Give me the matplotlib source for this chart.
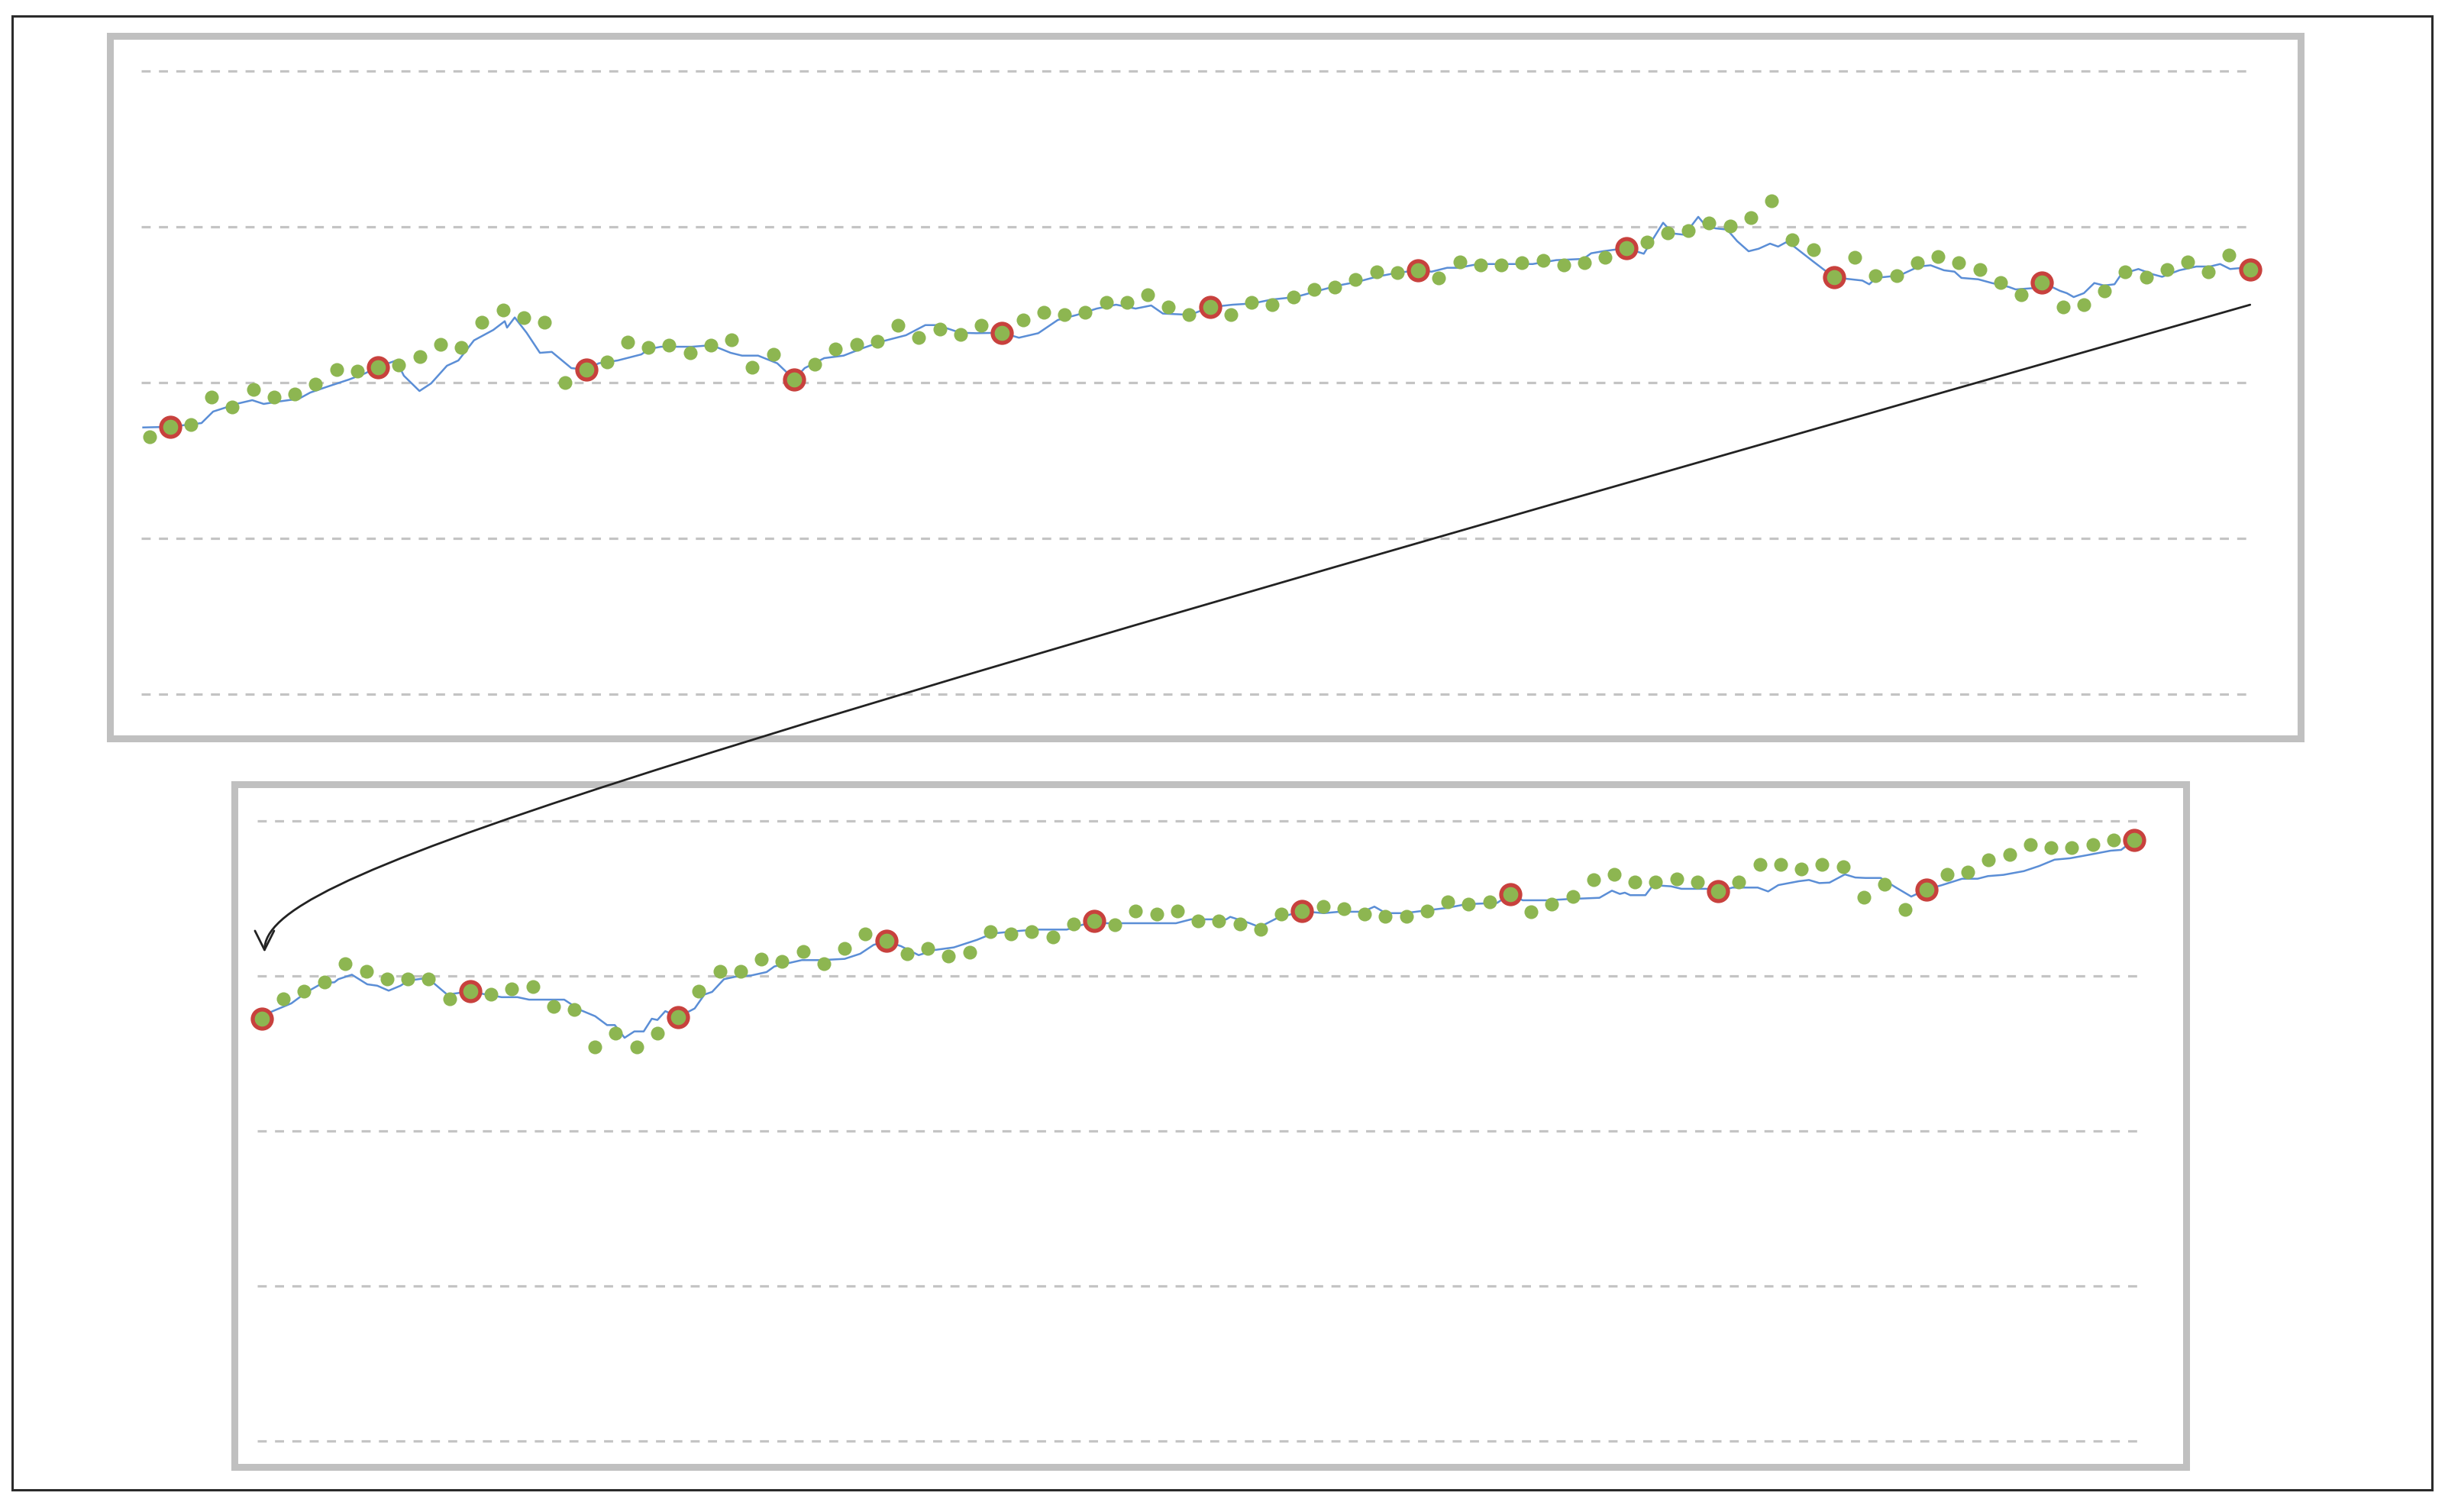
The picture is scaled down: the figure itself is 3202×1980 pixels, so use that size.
import matplotlib
matplotlib.use('Agg')
import matplotlib.pyplot as plt
from matplotlib.patches import Rectangle, FancyArrowPatch
from matplotlib.path import Path

W, H = 3202, 1981

# weekly closes (green dots); every 10th week is ringed in red
top_week = [165.0, 171.6, 173.2, 190.8, 184.2, 195.6, 190.8, 192.5, 198.9, 208.3,
            207.2, 210.0, 211.1, 216.5, 224.4, 222.5, 238.6, 246.7, 241.8, 238.6,
            200.1, 208.3, 213.2, 225.8, 222.5, 224.2, 219.0, 224.2, 227.5, 210.0,
            218.1, 202.1, 211.6, 221.4, 224.7, 226.3, 236.9, 228.8, 234.2, 230.7,
            236.9, 232.0, 240.2, 245.1, 243.5, 245.1, 251.6, 251.6, 256.5, 248.4,
            243.5, 248.4, 243.5, 251.6, 250.0, 254.9, 259.8, 261.4, 266.3, 271.2,
            270.4, 272.1, 267.2, 277.5, 275.3, 275.3, 277.0, 278.6, 275.3, 277.0,
            280.2, 286.3, 290.0, 296.1, 297.4, 302.3, 300.6, 305.9, 316.7, 291.7,
            285.1, 267.5, 280.2, 268.8, 268.8, 277.0, 280.7, 277.0, 272.5, 264.4,
            256.2, 264.4, 248.4, 250.0, 259.0, 271.2, 267.6, 272.5, 277.5, 270.9,
            281.9, 272.5]
top_ring_start = 1

# daily line (blue), x in weeks
top_line_x = [-0.29, 1, 2.51, 3.07, 3.63, 4.18, 4.95, 5.50, 6.25, 7.19, 7.74, 8.50, 9.61,
              10.37, 11, 11.87, 12.24, 12.99, 13.55, 14.31, 14.86, 15.61, 16.54, 17.09,
              17.20, 17.57, 18.14, 18.78, 19.35, 20.29, 21, 21.61, 22.52, 23.66, 24.03,
              24.60, 26.08, 27.04, 27.95, 28.50, 29.27, 30.19, 31, 31.51, 32.45, 33.38,
              34.32, 35.25, 36.38, 37.31, 37.88, 38.99, 39.75, 41, 41.81, 42.74, 43.68,
              44.61, 45.55, 46.48, 47.42, 48.17, 48.73, 50.04, 51, 52.09, 53.05, 53.96,
              55.10, 56.22, 57.15, 58.09, 59.02, 59.96, 61, 61.65, 62.40, 62.95, 63.89,
              65.00, 66.51, 67.64, 68.95, 69.32, 69.88, 71, 71.85, 72.78, 73.25, 73.81,
              74.47, 74.83, 75.31, 75.86, 76.34, 76.89, 77.37, 77.92, 78.31, 78.68,
              79.05, 79.99, 81, 82.36, 82.69, 83.02, 84.15, 85.07, 85.64, 86.28, 86.79,
              87.12, 87.93, 88.59, 89.40, 89.73, 90.55, 91, 91.86, 92.19, 92.52, 93.01,
              93.51, 93.98, 94.48, 94.81, 95.63, 96.30, 96.77, 97.60, 98.42, 99.07,
              99.56, 100.04, 100.70, 101]
top_line_y = [171.2, 171.6, 174.0, 181.4, 183.8, 186.3, 188.7, 186.3, 187.9, 189.6, 193.6,
              197.1, 202.0, 205.9, 210.0, 214.2, 204.4, 194.6, 199.5, 210.8, 214.2, 227.1,
              233.8, 239.4, 235.3, 241.8, 232.0, 219.1, 219.7, 209.3, 208.3, 212.4, 214.2,
              218.1, 221.6, 223.0, 223.0, 224.0, 219.1, 217.3, 217.3, 212.4, 202.1, 209.3,
              215.7, 217.3, 222.2, 226.5, 230.4, 236.9, 236.9, 232.0, 231.7, 232.0, 228.8,
              231.7, 240.2, 243.5, 247.5, 250.0, 247.5, 249.5, 244.3, 243.5, 248.4, 250.0,
              250.8, 253.3, 254.9, 259.0, 262.3, 264.7, 268.0, 270.4, 272.1, 271.2, 273.7,
              273.7, 276.1, 276.1, 276.1, 278.6, 279.4, 283.0, 284.3, 286.3, 282.7, 302.6,
              295.7, 294.9, 306.4, 300.6, 299.0, 298.2, 290.8, 284.3, 285.9, 289.2, 287.3,
              290.0, 287.6, 277.8, 267.5, 265.5, 263.1, 267.2, 268.8, 274.5, 275.3, 272.1,
              271.2, 267.2, 266.3, 263.9, 261.4, 259.8, 260.6, 264.4, 258.9, 257.4, 254.9,
              257.4, 263.9, 262.3, 263.1, 269.6, 272.9, 269.6, 267.9, 272.1, 274.5, 274.5,
              276.1, 272.9, 273.7, 272.5]

bottom_week = [272.4, 285.1, 290.0, 296.2, 307.7, 302.8, 298.2, 298.2, 298.2, 285.1,
               290.0, 288.3, 291.6, 293.2, 280.1, 278.4, 254.3, 263.1, 254.3, 263.1,
               273.5, 290.0, 302.8, 302.8, 311.0, 309.4, 315.9, 307.7, 317.5, 327.1,
               322.5, 314.3, 317.5, 312.6, 315.1, 328.6, 327.1, 328.6, 324.9, 333.5,
               335.3, 333.2, 341.7, 340.0, 341.7, 335.3, 335.3, 333.5, 330.2, 340.0,
               341.7, 344.6, 343.5, 340.0, 338.4, 338.4, 341.7, 347.9, 346.3, 347.9,
               352.8, 341.4, 346.3, 351.2, 362.2, 365.5, 360.6, 360.6, 362.7, 360.6,
               354.5, 360.6, 372.1, 372.1, 368.8, 372.1, 370.4, 350.7, 359.0, 343.0,
               355.7, 365.5, 367.1, 375.0, 378.3, 384.5, 382.9, 382.9, 384.5, 387.8,
               387.8]
bottom_ring_start = 0

bottom_line_x = [0, 0.37, 1.40, 2.15, 2.90, 3.47, 3.66, 4.02, 4.31, 5.05, 5.53, 6.08, 6.65,
                 7.02, 7.95, 8.89, 10, 10.77, 11.51, 12.27, 12.83, 14.52, 15.26, 16.01,
                 16.58, 16.95, 17.42, 17.89, 18.34, 18.73, 19.00, 19.38, 20, 20.79, 21.26,
                 21.63, 22.20, 22.75, 23.51, 24.25, 24.62, 25.38, 25.94, 26.88, 28.00,
                 28.75, 29.39, 30, 30.71, 31.56, 32.31, 33.25, 34.37, 35.12, 36.43, 37.17,
                 38.68, 40, 40.55, 41.49, 43.93, 44.66, 46.35, 46.54, 47.48, 47.95, 48.79,
                 50, 51.04, 51.79, 52.91, 53.47, 54.02, 54.94, 55.93, 56.92, 57.90, 59.37,
                 60, 60.60, 61.83, 62.82, 64.29, 64.89, 65.27, 65.51, 65.77, 66.50, 66.87,
                 67.73, 68.23, 69.44, 70, 70.69, 71.90, 72.40, 72.89, 73.88, 74.36, 74.86,
                 75.35, 76.09, 76.59, 77.08, 77.81, 78.55, 79.28, 80, 80.76, 81.73, 82.47,
                 82.97, 83.71, 84.69, 85.43, 86.17, 86.91, 87.89, 88.87, 89.37, 90]
bottom_line_y = [272.4, 276.5, 282.3, 289.7, 295.4, 295.9, 297.9, 299.5, 300.8, 294.6, 293.7,
                 290.5, 293.7, 297.0, 298.7, 288.0, 290.0, 288.0, 286.3, 286.3, 284.7, 284.7,
                 278.2, 274.0, 268.3, 268.3, 260.1, 264.2, 264.2, 272.4, 271.6, 277.3, 273.5,
                 279.0, 288.0, 289.7, 297.9, 299.5, 300.3, 302.5, 306.1, 308.5, 310.2, 310.2,
                 311.0, 314.3, 320.0, 322.5, 319.2, 313.4, 316.7, 318.4, 323.3, 327.4, 329.1,
                 329.9, 329.9, 335.3, 334.0, 334.0, 334.0, 336.5, 336.5, 338.1, 334.0, 331.5,
                 337.3, 341.7, 340.5, 341.4, 341.4, 344.7, 340.5, 340.5, 342.2, 343.8, 346.3,
                 347.1, 352.8, 348.8, 348.8, 349.6, 350.4, 355.0, 352.9, 353.7, 352.1, 352.1,
                 358.6, 357.8, 356.2, 356.2, 354.5, 357.0, 357.0, 354.5, 358.6, 361.1, 361.9,
                 359.9, 360.2, 365.5, 363.5, 363.2, 363.2, 357.0, 351.2, 355.7, 358.6, 362.7,
                 362.7, 364.4, 365.2, 367.6, 370.9, 375.0, 375.9, 378.3, 380.8, 381.3, 387.8]

grid_values = [0, 100, 200, 300, 400]

GREEN = '#8db651'
RED = '#c8413d'
BLUE = '#5b8ed6'
GRID = '#c4c4c4'
BOX = '#c0c0c0'

fig = plt.figure(figsize=(W / 100, H / 100), dpi=100)
fig.patch.set_facecolor('white')


def frame(x0, y0, x1, y1, color, lw):
    fig.add_artist(Rectangle((x0 / W, 1 - y1 / H), (x1 - x0) / W, (y1 - y0) / H,
                             fill=False, edgecolor=color, linewidth=lw,
                             transform=fig.transFigure))


def panel(x0, x1, gy_top, gy_bot, first_px, step_px, pad=20):
    scale = (gy_bot - gy_top) / grid_values[-1]
    ax = fig.add_axes([x0 / W, 1 - (gy_bot + pad) / H, (x1 - x0) / W,
                       (gy_bot - gy_top + 2 * pad) / H])
    ax.set_ylim(-pad / scale, grid_values[-1] + pad / scale)
    ax.set_xlim((x0 - first_px) / step_px, (x1 - first_px) / step_px)
    ax.set_facecolor('none')
    for s in ax.spines.values():
        s.set_visible(False)
    ax.set_xticks([])
    ax.set_yticks(grid_values)
    ax.tick_params(length=0, labelleft=False)
    ax.grid(axis='y', color=GRID, linewidth=2.3, linestyle=(0, (3.7, 3.4)))
    return ax


def draw(ax, week, ring_start, lx, ly):
    x = list(range(len(week)))
    ax.plot(lx, ly, color=BLUE, linewidth=1.8, zorder=2, clip_on=False)
    ax.plot(x, week, 'o', color=GREEN, markersize=13, markeredgewidth=0,
            zorder=3, clip_on=False)
    ax.plot(x[ring_start::10], week[ring_start::10], 'o', markersize=18,
            markerfacecolor=GREEN, markeredgecolor=RED, markeredgewidth=3.8,
            zorder=4, clip_on=False)


# outer frame and panel boxes
frame(16, 21.5, 3185, 1951.5, '#2b2b2b', 2.2)
frame(143.5, 47.5, 3012.5, 968, BOX, 6.5)
frame(307, 1028, 2862.5, 1922, BOX, 6.5)

ax_top = panel(185, 2952, 94, 910, 195.5, 27.24)
ax_bot = panel(337, 2806, 1076, 1888, 343.4, 27.24)

draw(ax_top, top_week, top_ring_start, top_line_x, top_line_y)
draw(ax_bot, bottom_week, bottom_ring_start, bottom_line_x, bottom_line_y)

# arrow from the end of the top series to the start of the bottom one
sx, sy = ax_top.transData.transform((len(top_week) - 1, top_week[-1]))
ex, ey = ax_bot.transData.transform((0, bottom_week[0]))
p0 = (sx, sy - 46)
p3 = (ex + 3, ey + 87)
p1 = (p0[0] - 2200, p0[1] - 627)
p2 = (p3[0], p3[1] + 100)
inv = fig.transFigure.inverted()
verts = inv.transform([p0, p1, p2, p3])
path = Path(verts, [Path.MOVETO, Path.CURVE4, Path.CURVE4, Path.CURVE4])
arrow = FancyArrowPatch(path=path, arrowstyle='->,head_length=0.9,head_width=0.45',
                        mutation_scale=20, linewidth=2.0, color='#222222',
                        shrinkA=0, shrinkB=0, transform=fig.transFigure)
fig.add_artist(arrow)

fig.savefig('out.png', dpi=100)
